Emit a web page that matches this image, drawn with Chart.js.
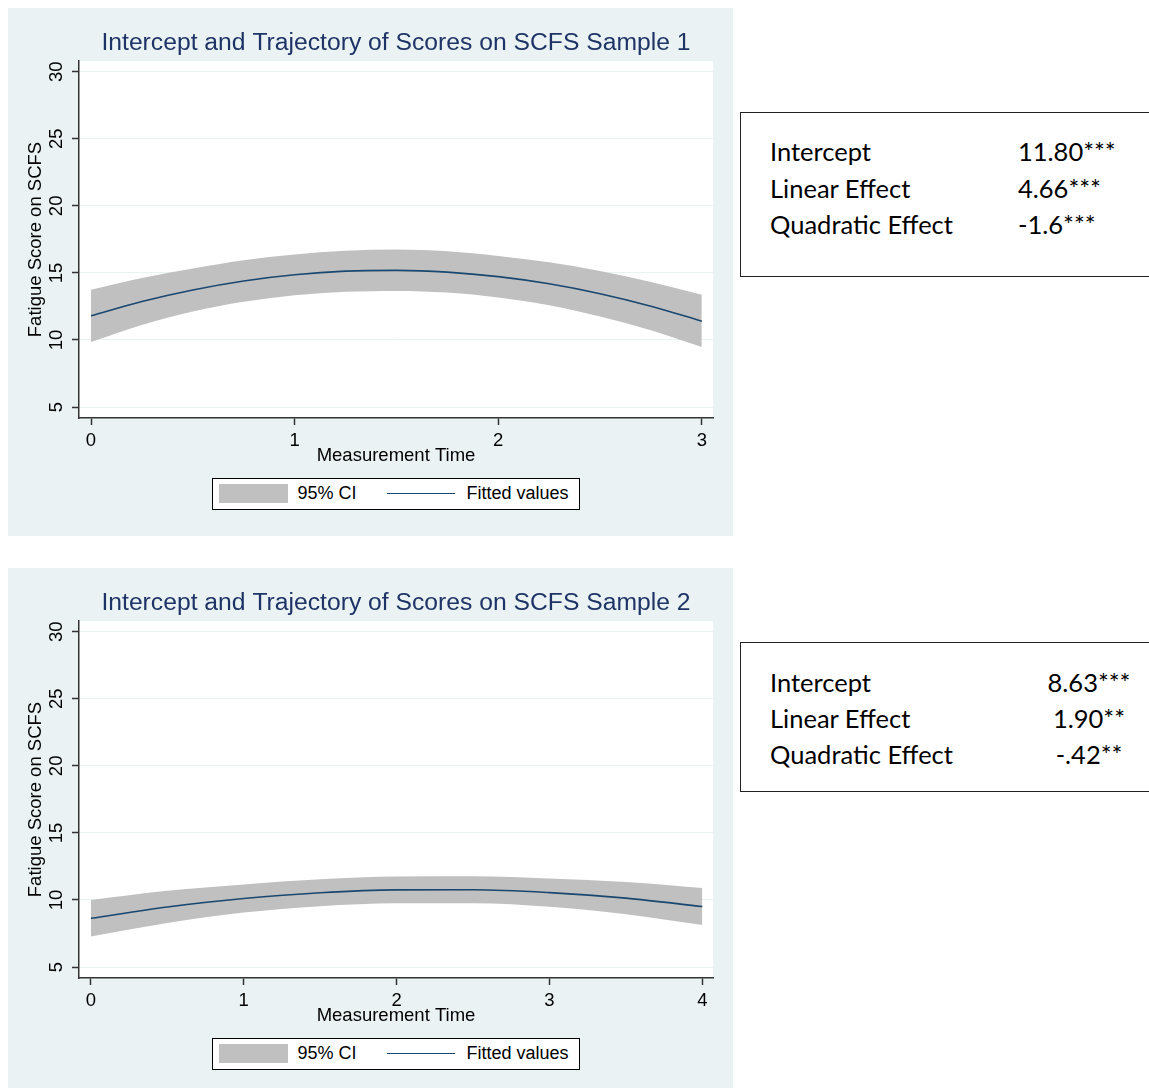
<!DOCTYPE html>
<html>
<head>
<meta charset="utf-8">
<title>Intercept and Trajectory of Scores on SCFS</title>
<script src="https://cdn.jsdelivr.net/npm/chart.js@4.4.1/dist/chart.umd.min.js"></script>
<style>
  html, body { margin: 0; padding: 0; background: #fff; overflow: hidden; }
  body { width: 1149px; height: 1088px; position: relative; font-family: "Liberation Sans", Arial, sans-serif; }
  .panel { position: absolute; left: 8px; width: 725px; height: 528px; background: #eaf2f3; }
  .panel canvas { position: absolute; left: 0; top: 0; }
  .legend { position: absolute; left: 204px; top: 470px; width: 368px; height: 32px; box-sizing: border-box;
            background: #fff; border: 1.5px solid #000; font-size: 18px; color: #000; }
  .legend .swatch { position: absolute; left: 5.5px; top: 5px; width: 69px; height: 19px; background: #c0c0c0; }
  .legend .lbl { position: absolute; top: 0; height: 29px; line-height: 29px; white-space: nowrap; }
  .legend .ln { position: absolute; left: 173.5px; top: 14px; width: 68px; height: 0; border-top: 1.5px solid #1a476f; }
  .coefbox { position: absolute; left: 740px; width: 440px; box-sizing: border-box; border: 1.5px solid #222; }
  .coef { position: absolute; font-family: Lato, "Open Sans", sans-serif; font-size: 25.5px; line-height: 1.2; color: #000; white-space: nowrap; }
</style>
</head>
<body>

<div class="panel" id="panel1" style="top:8px">
  <canvas id="chart1" width="725" height="528"></canvas>
  <div class="legend">
    <div class="swatch"></div>
    <div class="lbl" style="left:84.5px">95% CI</div>
    <div class="ln"></div>
    <div class="lbl" style="left:253.5px">Fitted values</div>
  </div>
</div>

<div class="panel" id="panel2" style="top:568px">
  <canvas id="chart2" width="725" height="528"></canvas>
  <div class="legend">
    <div class="swatch"></div>
    <div class="lbl" style="left:84.5px">95% CI</div>
    <div class="ln"></div>
    <div class="lbl" style="left:253.5px">Fitted values</div>
  </div>
</div>

<div class="coefbox" style="top:112px; height:165px"></div>
<div class="coefbox" style="top:642px; height:150px"></div>

<script>
// Sample 1: measurement occasions 0..3
const time1  = [0, 0.25, 0.5, 0.75, 1, 1.25, 1.5, 1.75, 2, 2.25, 2.5, 2.75, 3];
const fit1   = [11.80, 12.87, 13.73, 14.40, 14.86, 15.13, 15.19, 15.06, 14.72, 14.19, 13.45, 12.52, 11.40];
const upper1 = [13.75, 14.62, 15.33, 15.95, 16.38, 16.66, 16.74, 16.61, 16.27, 15.79, 15.15, 14.32, 13.37];
const lower1 = [9.85, 11.12, 12.13, 12.85, 13.34, 13.60, 13.66, 13.53, 13.17, 12.59, 11.75, 10.72, 9.47];
const xTicks1 = [0, 1, 2, 3];

// Sample 2: measurement occasions 0..4
const time2  = [0, 0.5, 1, 1.5, 2, 2.5, 3, 3.5, 4];
const fit2   = [8.63, 9.48, 10.11, 10.54, 10.75, 10.76, 10.55, 10.14, 9.51];
const upper2 = [9.99, 10.68, 11.16, 11.54, 11.75, 11.76, 11.60, 11.34, 10.89];
const lower2 = [7.27, 8.28, 9.06, 9.54, 9.75, 9.76, 9.50, 8.94, 8.13];
const xTicks2 = [0, 1, 2, 3, 4];

const yTicks = [5, 10, 15, 20, 25, 30];

// growth model estimates shown beside each graph
const coefLabels  = ['Intercept', 'Linear Effect', 'Quadratic Effect'];
const coefValues1 = ['11.80***', '4.66***', '-1.6***'];
const coefValues2 = ['8.63***', '1.90**', '-.42**'];

const FONT = '"Liberation Sans", Arial, sans-serif';
Chart.defaults.font.family = FONT;
Chart.defaults.color = '#000';

// light blue graph region, white plot region
const stataBg = {
    id: 'stataBg',
    beforeDraw(chart) {
        const {ctx, chartArea: a} = chart;
        ctx.save();
        ctx.fillStyle = '#eaf2f3';
        ctx.fillRect(0, 0, chart.width, chart.height);
        ctx.fillStyle = '#ffffff';
        ctx.fillRect(a.left, a.top, a.right - a.left, a.bottom - a.top);
        ctx.restore();
    }
};

function pts(xs, ys) {
    return xs.map((x, i) => ({x: x, y: ys[i]}));
}

function makeChart(id, title, times, fit, upper, lower, xTicks, xMin, xMax) {
    const ctx = document.getElementById(id).getContext('2d');
    return new Chart(ctx, {
        type: 'line',
        data: {
            datasets: [
                {
                    label: 'Fitted values',
                    data: pts(times, fit),
                    borderColor: '#1a476f',
                    borderWidth: 1.6,
                    pointRadius: 0,
                    fill: false,
                    cubicInterpolationMode: 'monotone',
                    order: 0
                },
                {
                    label: '95% CI',
                    data: pts(times, upper),
                    borderWidth: 0,
                    borderColor: 'rgba(0,0,0,0)',
                    backgroundColor: '#c0c0c0',
                    pointRadius: 0,
                    fill: '+1',
                    cubicInterpolationMode: 'monotone',
                    order: 1
                },
                {
                    label: '95% CI lower',
                    data: pts(times, lower),
                    borderWidth: 0,
                    borderColor: 'rgba(0,0,0,0)',
                    pointRadius: 0,
                    fill: false,
                    cubicInterpolationMode: 'monotone',
                    order: 1
                }
            ]
        },
        options: {
            responsive: false,
            animation: false,
            layout: { padding: { left: 0, top: 0, right: 20, bottom: 0 } },
            plugins: {
                legend: { display: false },
                tooltip: { enabled: false },
                title: {
                    display: true,
                    fullSize: false,
                    text: title,
                    color: '#1e3466',
                    font: { family: FONT, size: 24.7, weight: 'normal' },
                    padding: { top: 20, bottom: 3.4 }
                }
            },
            scales: {
                x: {
                    type: 'linear',
                    min: xMin,
                    max: xMax,
                    afterBuildTicks: s => { s.ticks = xTicks.map(v => ({value: v})); },
                    afterFit: s => { s.height = 118; },
                    grid: { drawOnChartArea: false, tickLength: 7, tickColor: '#333', tickWidth: 1.5 },
                    border: { display: true, color: '#333', width: 1.5 },
                    ticks: { font: { size: 18.5 }, color: '#000', padding: 5, maxRotation: 0 },
                    title: {
                        display: true,
                        text: 'Measurement Time',
                        color: '#000',
                        font: { family: FONT, size: 18.5 },
                        padding: { top: 0, bottom: 69 }
                    }
                },
                y: {
                    type: 'linear',
                    min: 4.18,
                    max: 30.8,
                    afterBuildTicks: s => { s.ticks = yTicks.map(v => ({value: v})); },
                    afterFit: s => { s.width = 71; },
                    grid: { color: '#eaf2f3', lineWidth: 1, tickLength: 7, tickColor: '#333', tickWidth: 1.5 },
                    border: { display: true, color: '#333', width: 1.5 },
                    ticks: { font: { size: 18.5 }, color: '#000', padding: 5, minRotation: 90, maxRotation: 90, crossAlign: 'center' },
                    title: {
                        display: true,
                        text: 'Fatigue Score on SCFS',
                        color: '#000',
                        font: { family: FONT, size: 18.5 },
                        padding: { top: 17, bottom: 0 }
                    }
                }
            }
        },
        plugins: [stataBg]
    });
}

makeChart('chart1', 'Intercept and Trajectory of Scores on SCFS Sample 1',
    time1, fit1, upper1, lower1, xTicks1, -0.059, 3.055);
makeChart('chart2', 'Intercept and Trajectory of Scores on SCFS Sample 2',
    time2, fit2, upper2, lower2, xTicks2, -0.078, 4.07);

// coefficient boxes beside the graphs
function addCoefs(values, firstBaseline, step, valueX, align) {
    const size = 25.5;
    coefLabels.forEach((lab, i) => {
        const top = firstBaseline + i * step - 0.987 * size;
        const l = document.createElement('div');
        l.className = 'coef';
        l.textContent = lab;
        l.style.left = '770px';
        l.style.top = top + 'px';
        document.body.appendChild(l);

        const v = document.createElement('div');
        v.className = 'coef';
        v.textContent = values[i];
        v.style.top = top + 'px';
        if (align === 'center') {
            v.style.left = (valueX - 100) + 'px';
            v.style.width = '200px';
            v.style.textAlign = 'center';
        } else {
            v.style.left = valueX + 'px';
        }
        document.body.appendChild(v);
    });
}
addCoefs(coefValues1, 161, 36.7, 1018, 'left');
addCoefs(coefValues2, 692.5, 36, 1089, 'center');
</script>
</body>
</html>
